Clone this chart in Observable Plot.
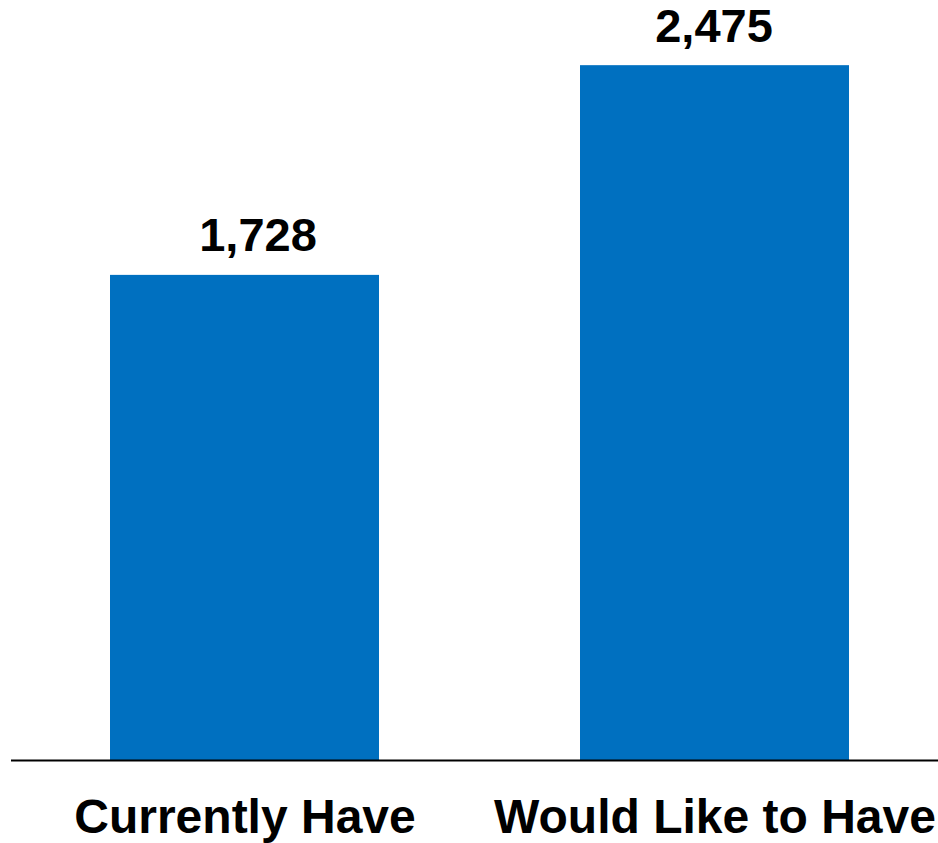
<!DOCTYPE html>
<html>
<head>
<meta charset="utf-8">
<script src="https://cdn.jsdelivr.net/npm/d3@7"></script>
<script src="https://cdn.jsdelivr.net/npm/@observablehq/plot@0.6"></script>
<style>
  html, body { margin: 0; padding: 0; background: #fff; }
</style>
</head>
<body>
<div id="chart"></div>
<script>
const categories = ["Currently Have", "Would Like to Have"];
const values = [1728, 2475];
const valueLabels = ["1,728", "2,475"];

const data = categories.map((c, i) => ({category: c, value: values[i], label: valueLabels[i]}));

const labelStyle = {x: "category", y: "value", text: "label", lineAnchor: "middle", dy: -39, fontSize: 47, fontWeight: "bold", fill: "#000"};

const chart = Plot.plot({
  width: 938,
  height: 843,
  marginTop: 2,
  marginBottom: 83,
  marginLeft: 11,
  marginRight: 0,
  style: {fontFamily: "'Liberation Sans', Arial, sans-serif", fontWeight: "bold", color: "#000", background: "#fff"},
  x: {domain: categories, paddingInner: 0.428, paddingOuter: 0.2, align: 0.527, label: null},
  y: {domain: [0, 2700], axis: null},
  marks: [
    Plot.barY(data, {x: "category", y: "value", fill: "#0070C0"}),
    Plot.ruleY([0], {stroke: "#000", strokeWidth: 2}),
    Plot.text(data.slice(0, 1), {...labelStyle, dx: 13}),
    Plot.text(data.slice(1), {...labelStyle, dx: -1}),
    Plot.axisX({tickSize: 0, tickPadding: 38, fontSize: 48, fontWeight: "bold", label: null, fill: "#000"})
  ]
});
document.getElementById("chart").appendChild(chart);
</script>
</body>
</html>
